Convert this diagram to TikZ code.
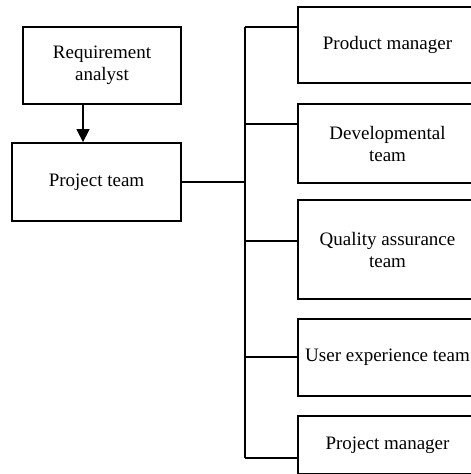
\documentclass[tikz,border=0pt]{standalone}
\usepackage{fontspec}
\setmainfont{Liberation Serif}
\usetikzlibrary{arrows.meta,positioning,calc}
\tikzset{
  box/.style={draw,line width=1.8pt,align=center,inner sep=0pt,
              font=\fontsize{19}{22}\selectfont},
  role/.style={box,minimum width=179pt},
  link/.style={line width=1.4pt},
  flow/.style={link,-{Triangle[length=13pt,width=13pt]}},
}
\begin{document}
\begin{tikzpicture}[x=1pt,y=-1pt]
    \clip (0,0) rectangle (471,474);
    % --- left side ---
    \node[box,minimum width=158pt,minimum height=77pt] (ra) at (102,65.5) {Requirement\\analyst};
    \node[box,minimum width=169pt,minimum height=78pt] (pt) at (96.5,182) {Project team};
    \coordinate (ax) at (83,0);
    \draw[flow] (ra.south -| ax) -- (pt.north -| ax);
    % --- team members ---
    \node[role,minimum height=76pt] (pm) at (387.5,45) {Product manager};
    \node[role,minimum height=79pt] (dev) at (387.5,143.5) {Developmental\\team};
    \node[role,minimum height=99pt] (qa) at (387.5,249.5) {Quality assurance\\team};
    \node[role,minimum height=77pt] (ux) at (387.5,357.5) {User experience team};
    \node[role,minimum height=58pt] (pmgr) at (387.5,445) {Project manager};
    % --- bus and branches ---
    \coordinate (b1) at (245,27);
    \coordinate (b2) at (245,124);
    \coordinate (b3) at (245,241);
    \coordinate (b4) at (245,357);
    \coordinate (b5) at (245,458);
    \draw[link] (b1) -- (b5);
    \draw[link] (pt.east) -- (pt.east -| b1);
    \draw[link] (b1) -- (b1 -| pm.west);
    \draw[link] (b2) -- (b2 -| dev.west);
    \draw[link] (b3) -- (b3 -| qa.west);
    \draw[link] (b4) -- (b4 -| ux.west);
    \draw[link] (b5) -- (b5 -| pmgr.west);
\end{tikzpicture}
\end{document}
